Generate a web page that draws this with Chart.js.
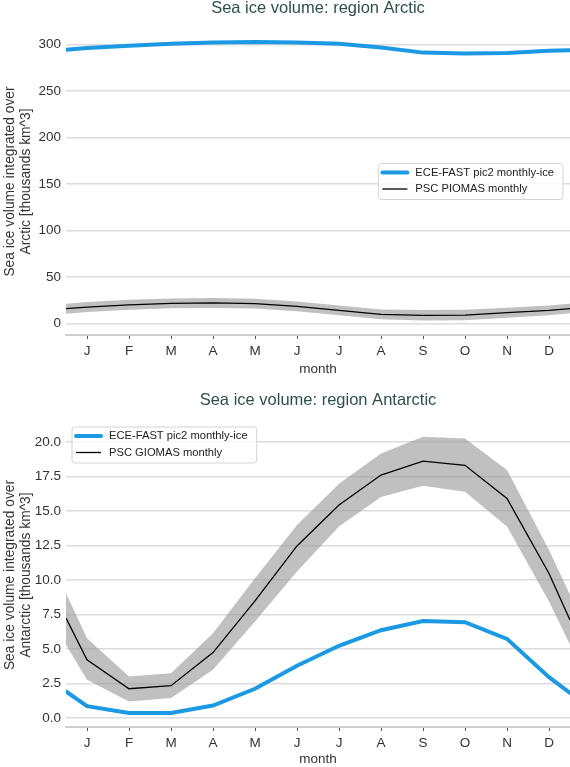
<!DOCTYPE html>
<html>
<head>
<meta charset="utf-8">
<script src="https://cdn.jsdelivr.net/npm/chart.js@4.4.1/dist/chart.umd.min.js"></script>
<style>
    html, body { margin: 0; padding: 0; background: #fff; }
    .panel { position: relative; width: 570px; }
    #p1 { height: 383px; }
    #p2 { height: 384px; }
</style>
</head>
<body>
<div class="panel" id="p1"><canvas id="arctic"></canvas></div>
<div class="panel" id="p2"><canvas id="antarctic"></canvas></div>
<script>
// Month tick labels
const months = ["J", "F", "M", "A", "M", "J", "J", "A", "S", "O", "N", "D"];

// Each series: wrap value at the left edge, Jan..Dec, wrap value at the right edge
const arcticModel = [294.5, 296.5, 299, 301, 302.5, 303, 302.5, 301, 297, 291.5, 290.5, 291, 293.5, 294];
const arcticObs = [15.8, 17.6, 20.0, 21.5, 22.0, 21.2, 18.3, 14.0, 9.7, 8.6, 9.0, 11.5, 14.0, 16.0];
const arcticObsLow = [10.5, 12.3, 14.7, 16.2, 16.7, 15.9, 13.0, 8.7, 4.4, 3.0, 3.5, 6.2, 8.7, 10.8];
const arcticObsHigh = [21.2, 23.0, 25.4, 26.8, 27.3, 26.5, 23.6, 19.3, 15.0, 14.5, 14.8, 16.8, 19.3, 21.2];

const antarcticModel = [1.92, 0.86, 0.36, 0.36, 0.9, 2.12, 3.78, 5.23, 6.36, 7.03, 6.94, 5.73, 2.96, 1.81];
const antarcticObs = [7.23, 4.21, 2.12, 2.34, 4.74, 8.48, 12.46, 15.42, 17.59, 18.6, 18.3, 15.9, 10.46, 7.1];
const antarcticObsLow = [5.3, 2.77, 1.2, 1.45, 3.49, 6.99, 10.6, 13.86, 16.0, 16.82, 16.38, 13.86, 8.43, 5.3];
const antarcticObsHigh = [9.04, 5.78, 3.0, 3.25, 6.14, 10.12, 13.98, 16.96, 19.15, 20.36, 20.24, 17.95, 12.17, 8.92];

// y tick values
const arcticTicks = [0, 50, 100, 150, 200, 250, 300];
const antarcticTicks = [0, 2.5, 5, 7.5, 10, 12.5, 15, 17.5, 20];

const FONT = '"Liberation Sans", Arial, sans-serif';
const BLUE = "rgb(27,153,226)";
const BAND = "rgba(150,150,150,0.6)";

// x positions: half a month before Jan, the months, half a month after Dec
const xPos = (i) => (i === 0 ? 0.5 : i === 13 ? 12.5 : i);
const toPoints = (arr) => arr.map((v, i) => ({ x: xPos(i), y: v }));

// Legend drawn inside the plot, like matplotlib
const insideLegend = {
    id: "insideLegend",
    afterDraw(chart, args, opts) {
        const { ctx, chartArea } = chart;
        const items = chart.data.datasets.filter((d) => d.label);
        ctx.save();
        ctx.font = "11.2px " + FONT;
        const textW = Math.max(...items.map((d) => ctx.measureText(d.label).width));
        const w = 37 + textW + 9;
        const h = 36;
        const x = opts.corner === "upper left" ? chartArea.left + 6 : chartArea.right - 7 - w;
        const y = opts.corner === "upper left" ? chartArea.top + 4 : (chartArea.top + chartArea.bottom) / 2 - h / 2;
        ctx.beginPath();
        ctx.roundRect(x, y, w, h, 3);
        ctx.fillStyle = "rgba(255,255,255,0.8)";
        ctx.fill();
        ctx.strokeStyle = "#d4d4d4";
        ctx.lineWidth = 1;
        ctx.stroke();
        items.forEach((d, i) => {
            const yy = y + 9 + i * 16.5;
            ctx.beginPath();
            ctx.moveTo(x + 4, yy);
            ctx.lineTo(x + 29, yy);
            ctx.strokeStyle = d.borderColor;
            ctx.lineWidth = d.borderWidth;
            ctx.lineCap = d.borderWidth > 2 ? "round" : "butt";
            ctx.stroke();
            ctx.fillStyle = "#222";
            ctx.textBaseline = "middle";
            ctx.fillText(d.label, x + 37, yy);
        });
        ctx.restore();
    },
};

const makeChart = (id, cfg) => {
    const ctx = document.getElementById(id);
    return new Chart(ctx, {
        type: "line",
        data: {
            datasets: [
                {
                    data: toPoints(cfg.model),
                    label: cfg.modelLabel,
                    borderColor: BLUE,
                    borderWidth: 4,
                    borderCapStyle: "round",
                    pointRadius: 0,
                    tension: 0,
                    fill: false,
                    order: 1,
                },
                {
                    data: toPoints(cfg.obs),
                    label: cfg.obsLabel,
                    borderColor: "#000",
                    borderWidth: 1.3,
                    pointRadius: 0,
                    tension: 0,
                    fill: false,
                    order: 2,
                },
                {
                    data: toPoints(cfg.low),
                    borderColor: "transparent",
                    borderWidth: 0,
                    pointRadius: 0,
                    tension: 0,
                    fill: false,
                    order: 4,
                },
                {
                    data: toPoints(cfg.high),
                    borderColor: "transparent",
                    backgroundColor: BAND,
                    borderWidth: 0,
                    pointRadius: 0,
                    tension: 0,
                    fill: "-1",
                    order: 3,
                },
            ],
        },
        options: {
            responsive: true,
            maintainAspectRatio: false,
            animation: false,
            layout: { padding: 0 },
            scales: {
                x: {
                    type: "linear",
                    min: 0.5,
                    max: 12.5,
                    afterBuildTicks: (s) => {
                        s.ticks = months.map((m, i) => ({ value: i + 1 }));
                    },
                    afterFit: (s) => {
                        s.height = cfg.xHeight;
                    },
                    ticks: {
                        callback: (v) => months[v - 1],
                        color: "#333",
                        padding: 4,
                        font: { family: FONT, size: 13.5 },
                        maxRotation: 0,
                    },
                    grid: {
                        drawOnChartArea: false,
                        drawTicks: true,
                        tickLength: 4,
                        tickColor: "#555",
                        tickWidth: 1,
                    },
                    border: { display: true, color: "#cfcfcf", width: 2 },
                    title: {
                        display: true,
                        text: "month",
                        color: "#333",
                        font: { family: FONT, size: 13.5 },
                        padding: { top: 0, bottom: cfg.monthPad },
                    },
                },
                y: {
                    min: cfg.yMin,
                    max: cfg.yMax,
                    afterBuildTicks: (s) => {
                        s.ticks = cfg.yTicks.map((v) => ({ value: v }));
                    },
                    afterFit: (s) => {
                        s.width = 66;
                    },
                    ticks: {
                        callback: cfg.tickFmt,
                        color: "#333",
                        padding: 5,
                        font: { family: FONT, size: 13.5 },
                    },
                    grid: {
                        color: "#dcdcdc",
                        lineWidth: 1.5,
                        drawTicks: false,
                    },
                    border: { display: false },
                    title: {
                        display: true,
                        text: cfg.yTitle,
                        color: "#333",
                        font: { family: FONT, size: 13.8, lineHeight: 1.15 },
                        padding: { top: 2, bottom: 0 },
                    },
                },
            },
            plugins: {
                legend: { display: false },
                tooltip: { enabled: false },
                title: {
                    display: true,
                    fullSize: false,
                    text: cfg.title,
                    color: "#2f4f4f",
                    font: { family: FONT, size: 16.5, weight: "normal", lineHeight: 1 },
                    padding: cfg.titlePad,
                },
                insideLegend: { corner: cfg.legendCorner },
            },
        },
        plugins: [insideLegend],
    });
};

makeChart("arctic", {
    model: arcticModel,
    obs: arcticObs,
    low: arcticObsLow,
    high: arcticObsHigh,
    modelLabel: "ECE-FAST pic2 monthly-ice",
    obsLabel: "PSC PIOMAS monthly",
    title: "Sea ice volume: region Arctic",
    yTitle: ["Sea ice volume integrated over", "Arctic [thousands km^3]"],
    yMin: -12.5,
    yMax: 318,
    yTicks: arcticTicks,
    tickFmt: (v) => String(v),
    xHeight: 48,
    monthPad: 6,
    titlePad: { top: 0.5, bottom: 11 },
    legendCorner: "center right",
});

makeChart("antarctic", {
    model: antarcticModel,
    obs: antarcticObs,
    low: antarcticObsLow,
    high: antarcticObsHigh,
    modelLabel: "ECE-FAST pic2 monthly-ice",
    obsLabel: "PSC GIOMAS monthly",
    title: "Sea ice volume: region Antarctic",
    yTitle: ["Sea ice volume integrated over", "Antarctic [thousands km^3]"],
    yMin: -0.65,
    yMax: 21.36,
    yTicks: antarcticTicks,
    tickFmt: (v) => v.toFixed(1),
    xHeight: 40,
    monthPad: 0,
    titlePad: { top: 8.75, bottom: 14.75 },
    legendCorner: "upper left",
});
</script>
</body>
</html>
